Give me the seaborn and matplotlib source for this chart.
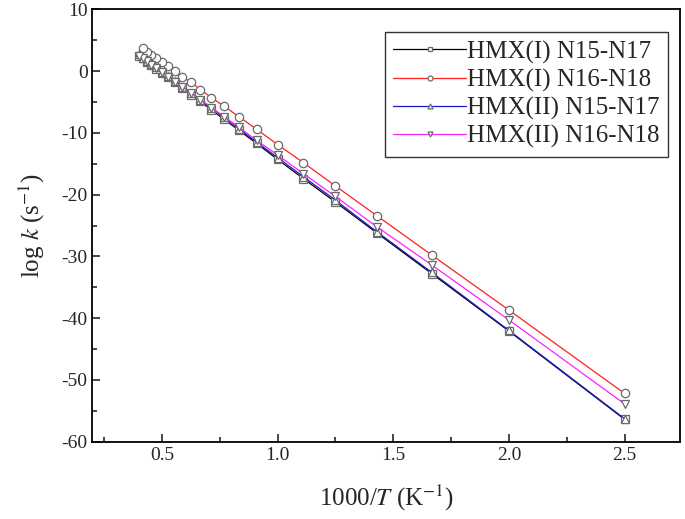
import numpy as np
import pandas as pd
import matplotlib
matplotlib.use("Agg")
import matplotlib.pyplot as plt
from matplotlib.ticker import MultipleLocator
import seaborn as sns

sns.set_style("ticks")
plt.rcParams['font.family'] = ['Liberation Serif', 'DejaVu Serif']
plt.rcParams['mathtext.fontset'] = 'stix'
plt.rcParams['axes.unicode_minus'] = False

# Temperatures (K)
T_all = [400, 500, 600, 700, 800, 900, 1000, 1100, 1200, 1300, 1400, 1500,
         1600, 1700, 1800, 1900, 2000, 2100, 2200, 2300, 2400, 2500]
T_red = T_all[:-1]

hmx1_n15 = [-56.4, -42.1, -32.8, -26.2, -21.2, -17.4, -14.3, -11.7, -9.6, -7.8, -6.3,
            -4.9, -3.8, -2.7, -1.8, -1.0, -0.3, 0.4, 1.0, 1.55, 2.05, 2.5]
hmx1_n16 = [-52.2, -38.7, -29.8, -23.4, -18.6, -14.8, -11.9, -9.4, -7.4, -5.7, -4.3,
            -3.0, -1.8, -0.9, -0.05, 0.8, 1.5, 2.05, 2.6, 3.1, 3.7]
hmx2_n15 = [-56.3, -42.0, -32.6, -26.0, -20.9, -17.1, -14.0, -11.5, -9.3, -7.5, -6.0,
            -4.7, -3.5, -2.5, -1.6, -0.8, -0.1, 0.6, 1.2, 1.7, 2.2, 2.7]
hmx2_n16 = [-53.9, -40.3, -31.4, -25.2, -20.3, -16.6, -13.6, -11.2, -9.1, -7.4, -5.9,
            -4.6, -3.5, -2.5, -1.7, -0.9, -0.2, 0.5, 1.05, 1.6, 2.05, 2.5]

series = [
    ("HMX(I) N15-N17", T_all, hmx1_n15, "#000000", "s"),
    ("HMX(I) N16-N18", T_red, hmx1_n16, "#ff2020", "o"),
    ("HMX(II) N15-N17", T_all, hmx2_n15, "#1a1acd", "^"),
    ("HMX(II) N16-N18", T_all, hmx2_n16, "#ff20ff", "v"),
]

fig = plt.figure(figsize=(6.85, 5.19), dpi=100)
ax = fig.add_axes([0.135, 0.149, 0.858, 0.833])

for label, T, vals, color, mk in series:
    df = pd.DataFrame({"x": 1000.0 / np.array(T, dtype=float), "y": vals})
    sns.lineplot(data=df, x="x", y="y", ax=ax, color=color, linewidth=0.9,
                 marker=mk, markersize=6, markerfacecolor="white",
                 markeredgecolor="#6a6a6a", markeredgewidth=0.9, label=label,
                 sort=False)

ax.set_xlim(0.2, 2.74)
ax.set_ylim(-60, 10)
ax.xaxis.set_major_locator(MultipleLocator(0.5))
ax.xaxis.set_minor_locator(MultipleLocator(0.25))
ax.yaxis.set_major_locator(MultipleLocator(10))
ax.yaxis.set_minor_locator(MultipleLocator(5))
ax.set_xticks([0.5, 1.0, 1.5, 2.0, 2.5])
ax.set_xticklabels(["0.5", "1.0", "1.5", "2.0", "2.5"])
ax.tick_params(which='both', direction='in', top=False, right=False, labelsize=14,
               width=1.2)
ax.tick_params(which='major', length=6)
ax.tick_params(which='minor', length=3.5)
for s in ax.spines.values():
    s.set_linewidth(1.3)
    s.set_color('black')

ax.set_xlabel(r'1000/$T$ (K$^{-1}$)', fontsize=18, labelpad=14)
ax.set_ylabel(r'log $k$ (s$^{-1}$)', fontsize=18, labelpad=10)

leg = ax.legend(loc='upper right', bbox_to_anchor=(0.98, 0.948),
                fontsize=18, frameon=True, fancybox=False,
                edgecolor='black', handlelength=2.9, handletextpad=0.05,
                labelspacing=0.2, borderpad=0.35, borderaxespad=0.0,
                markerscale=0.6)
leg.get_frame().set_linewidth(1.0)

fig.savefig("out.png", dpi=100)
